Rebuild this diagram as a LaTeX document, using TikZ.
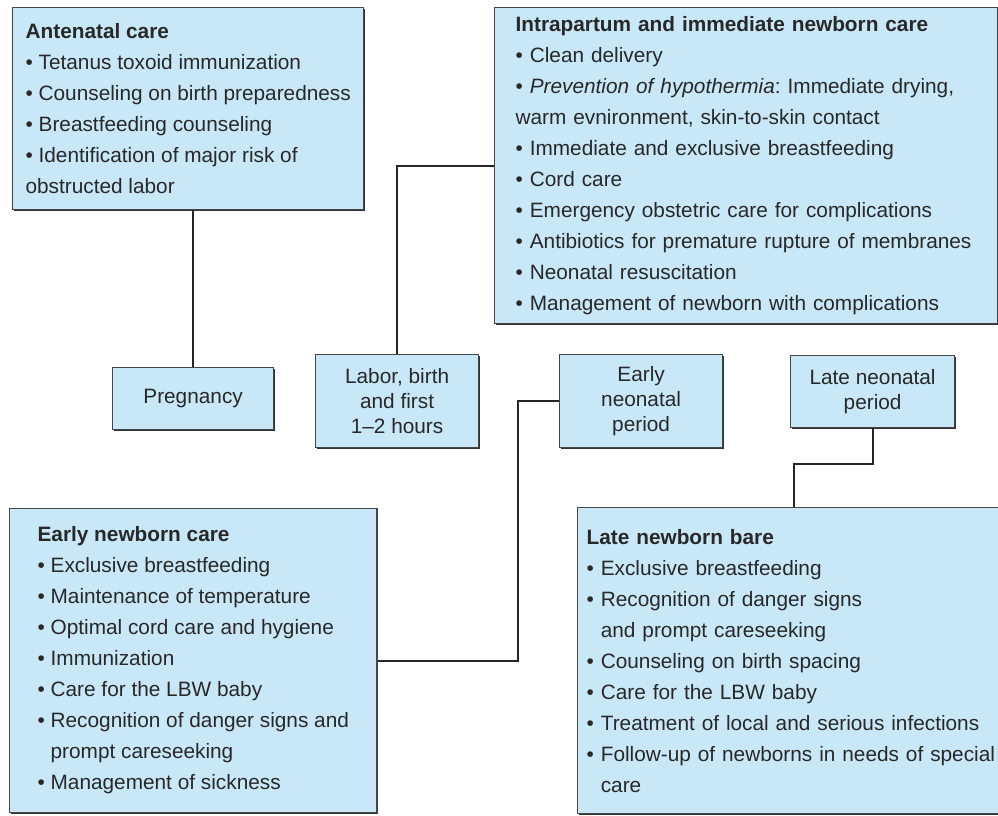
\documentclass[tikz,border=0pt]{standalone}
\usepackage{fontspec}
\setmainfont{Liberation Sans}
\usepackage{xcolor}
\usepackage{tikz}
\usetikzlibrary{shadows}

\definecolor{boxfill}{RGB}{200,232,248}
\definecolor{boxline}{RGB}{70,70,70}
\definecolor{inktext}{RGB}{40,40,40}

\begin{document}
\begin{tikzpicture}[
    x=1pt,y=-1pt,
    panel/.style={draw=boxline,fill=boxfill,line width=1.2pt,anchor=north west,
      drop shadow={shadow xshift=1.4pt,shadow yshift=-1.4pt,fill=black!80,opacity=1},
      text=inktext,align=left,inner ysep=0pt,
      font=\fontsize{20.8pt}{31pt}\selectfont},
    stage/.style={draw=boxline,fill=boxfill,line width=1.2pt,anchor=north west,
      drop shadow={shadow xshift=1.4pt,shadow yshift=-1.4pt,fill=black!80,opacity=1},
      text=inktext,align=center,inner sep=0pt,
      font=\fontsize{20.8pt}{25pt}\selectfont},
    link/.style={draw=black!85,line width=2pt}
  ]
    \useasboundingbox (0,0) rectangle (998,815);
    \node[panel,inner xsep=13pt,minimum height=202pt] (ante) at (12,7)
      {\textbf{Antenatal care}\\
       \textbullet\ Tetanus toxoid immunization\\
       \textbullet\ Counseling on birth preparedness\\
       \textbullet\ Breastfeeding counseling\\
       \textbullet\ Identification of major risk of\\
       obstructed labor};
    \node[panel,text width=461pt,inner xsep=21pt,minimum height=316pt] (intra) at (494,7)
      {\textbf{Intrapartum and immediate newborn care}\\
       \textbullet\ Clean delivery\\
       \textbullet\ \textit{Prevention of hypothermia}:\ Immediate drying,\\
       warm evnironment, skin-to-skin contact\\
       \textbullet\ Immediate and exclusive breastfeeding\\
       \textbullet\ Cord care\\
       \textbullet\ Emergency obstetric care for complications\\
       \textbullet\ Antibiotics for premature rupture of membranes\\
       \textbullet\ Neonatal resuscitation\\
       \textbullet\ Management of newborn with complications};
    \node[stage,minimum width=161pt,minimum height=62pt] (preg) at (112,367) {Pregnancy};
    \node[stage,minimum width=163pt,minimum height=93pt] (labor) at (315,354)
      {Labor, birth\\and first\\1--2 hours};
    \node[stage,minimum width=163pt,minimum height=93pt] (eneo) at (559,354)
      {Early\\neonatal\\period};
    \node[stage,minimum width=164pt,minimum height=72pt] (lneo) at (790,355)
      {Late neonatal\\period};
    \node[panel,inner xsep=28pt,minimum height=304pt] (enb) at (9,508)
      {\textbf{Early newborn care}\\
       \textbullet\ Exclusive breastfeeding\\
       \textbullet\ Maintenance of temperature\\
       \textbullet\ Optimal cord care and hygiene\\
       \textbullet\ Immunization\\
       \textbullet\ Care for the LBW baby\\
       \textbullet\ Recognition of danger signs and\\
       \phantom{\textbullet\ }prompt careseeking\\
       \textbullet\ Management of sickness};
    \node[panel,text width=414pt,inner xsep=9pt,minimum height=306pt] (lnb) at (577,507)
      {\textbf{Late newborn bare}\\
       \textbullet\ Exclusive breastfeeding\\
       \textbullet\ Recognition of danger signs\\
       \phantom{\textbullet\ }and prompt careseeking\\
       \textbullet\ Counseling on birth spacing\\
       \textbullet\ Care for the LBW baby\\
       \textbullet\ Treatment of local and serious infections\\
       \textbullet\ Follow-up of newborns in needs of special\\
       \phantom{\textbullet\ }care};
    \draw[link] (preg.north) -- (preg.north |- ante.south);
    \draw[link] (labor.north) |- (intra.west);
    \draw[link] (eneo.west) -- ++(-41,0) |- (enb.east);
    \draw[link] (lneo.south) -- ++(0,36) -| (lnb.north);
  \end{tikzpicture}
\end{document}
